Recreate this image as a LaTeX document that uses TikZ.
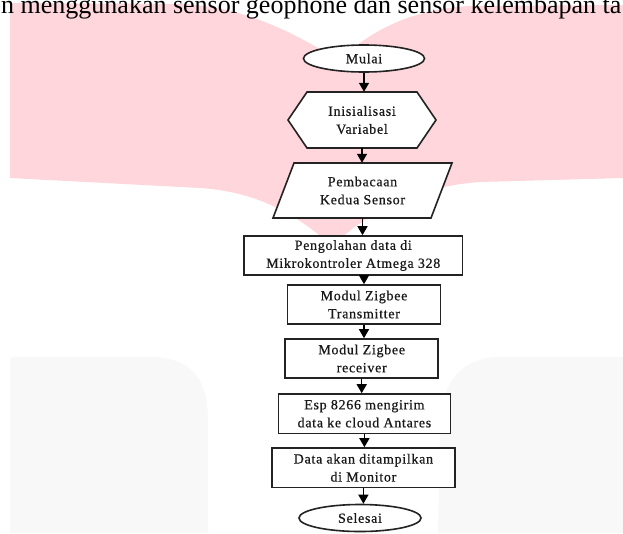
\documentclass[tikz,border=0pt]{standalone}
\usepackage{fontspec}
\setmainfont{Liberation Serif}
\newfontfamily\lblfont[LetterSpace=5,FakeBold=0.6]{Liberation Serif}
\usetikzlibrary{arrows.meta,shapes.geometric,calc}
\definecolor{pinkbg}{RGB}{254,214,219}
\definecolor{graybg}{RGB}{248,248,248}
\definecolor{edgec}{RGB}{35,35,35}
\definecolor{txtc}{RGB}{25,25,25}
\begin{document}
\begin{tikzpicture}[x=1pt,y=-1pt,
  lbl/.style={inner sep=0pt, align=center, text=txtc, font=\lblfont\fontsize{14}{18}\selectfont},
  box/.style={lbl, draw=edgec, line width=1.6pt, fill=white},
  term/.style={box, ellipse},
  shp/.style={draw=edgec, line width=1.6pt, fill=white, line join=miter},
  arr/.style={draw=black, line width=1.4pt, -{Triangle[width=10pt,length=9pt]}}]
\useasboundingbox (0,0) rectangle (623,533);
% background watermark shapes
\fill[pinkbg] (10,3) -- (180,4) .. controls (240,6) and (290,30) .. (338,60)
  .. controls (365,38) and (400,10) .. (470,6) -- (623,5) -- (623,178) -- (480,182)
  .. controls (420,186) and (370,210) .. (332,246)
  .. controls (305,222) and (265,192) .. (200,188) -- (10,178) -- cycle;
\fill[graybg] (10,533) -- (10,362) .. controls (10,358) and (12,357) .. (16,357) -- (150,357)
  .. controls (192,357) and (208,380) .. (208,420) -- (208,533) -- cycle;
\fill[graybg] (623,533) -- (623,357) -- (495,357) .. controls (455,360) and (441,390) .. (440,425) -- (438,533) -- cycle;
% title fragment
\node[anchor=base west, inner sep=0pt, font=\fontsize{26}{30}\selectfont] (title) at (1,13) {n menggunakan sensor geophone dan sensor kelembapan ta};
% shapes drawn from centres
\coordinate (initc) at (362,120);
\coordinate (bacac) at (362.5,190.5);
\draw[shp] (initc) ++(-74,0) -- ++(19,-28) -- ++(110,0) -- ++(19,28) -- ++(-19,28) -- ++(-110,0) -- cycle;
\draw[shp] (bacac) ++(-89.5,27.5) -- ++(21,-55) -- ++(158,0) -- ++(-21,55) -- cycle;
% nodes
\node[term, minimum width=121pt, minimum height=27pt] (mulai) at (364,58.5) {Mulai};
\node[lbl, minimum width=148pt, minimum height=56pt] (init) at (initc) {Inisialisasi\\Variabel};
\node[lbl, minimum width=179pt, minimum height=55pt] (baca) at (bacac) {Pembacaan\\Kedua Sensor};
\node[box, minimum width=218.5pt, minimum height=39pt] (olah) at (353.25,255.5) {Pengolahan data di\\Mikrokontroler Atmega 328};
\node[box, minimum width=153pt, minimum height=39pt] (tx) at (364,304.5) {Modul Zigbee\\Transmitter};
\node[box, minimum width=153pt, minimum height=39pt] (rx) at (361.7,358.5) {Modul Zigbee\\receiver};
\node[box, minimum width=172pt, minimum height=39.5pt] (esp) at (364.4,413.75) {Esp 8266 mengirim\\data ke cloud Antares};
\node[box, minimum width=183pt, minimum height=39.5pt] (data) at (363.4,467.75) {Data akan ditampilkan\\di Monitor};
\node[term, minimum width=122pt, minimum height=27pt] (selesai) at (360,518) {Selesai};
% connectors
\draw[arr] (mulai.south) -- (mulai.south |- init.north);
\draw[arr] (init.south) -- (init.south |- baca.north);
\draw[arr] (baca.south) -- (baca.south |- olah.north);
\draw[arr] (olah.south -| tx.north) -- (tx.north);
\draw[arr] (tx.south) -- (tx.south |- rx.north);
\draw[arr] (rx.south) -- (rx.south |- esp.north);
\draw[arr] (esp.south) -- (esp.south |- data.north);
\draw[arr] (data.south) -- (data.south |- selesai.north);
\end{tikzpicture}
\end{document}
